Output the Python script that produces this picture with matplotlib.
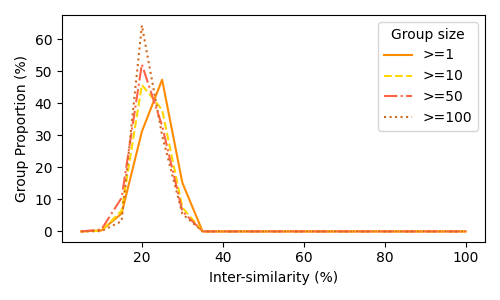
import matplotlib.pyplot as plt

similarity = [5, 10, 15, 20, 25, 30, 35, 40, 45, 50, 55, 60, 65, 70, 75, 80, 85, 90, 95, 100]
size_1 = [0, 0.3, 5.6, 31.2, 47.4, 15.2, 0, 0, 0, 0, 0, 0, 0, 0, 0, 0, 0, 0, 0, 0]
size_10 = [0, 0.2, 6.5, 45.8, 38.0, 7.5, 0, 0, 0, 0, 0, 0, 0, 0, 0, 0, 0, 0, 0, 0]
size_50 = [0, 0.6, 10.5, 52.2, 33.0, 6.3, 0, 0, 0, 0, 0, 0, 0, 0, 0, 0, 0, 0, 0, 0]
size_100 = [0, 0.1, 3.2, 64.4, 30.0, 5.5, 0, 0, 0, 0, 0, 0, 0, 0, 0, 0, 0, 0, 0, 0]

fig, ax = plt.subplots(figsize=(5, 3), dpi=100)
ax.plot(similarity, size_1, color='darkorange', linestyle='-', label='>=1')
ax.plot(similarity, size_10, color='gold', linestyle='--', label='>=10')
ax.plot(similarity, size_50, color='tomato', linestyle='-.', label='>=50')
ax.plot(similarity, size_100, color='chocolate', linestyle=':', label='>=100')
ax.set_xlabel('Inter-similarity (%)')
ax.set_ylabel('Group Proportion (%)')
ax.legend(title='Group size')
plt.tight_layout()
plt.savefig('out.png')
